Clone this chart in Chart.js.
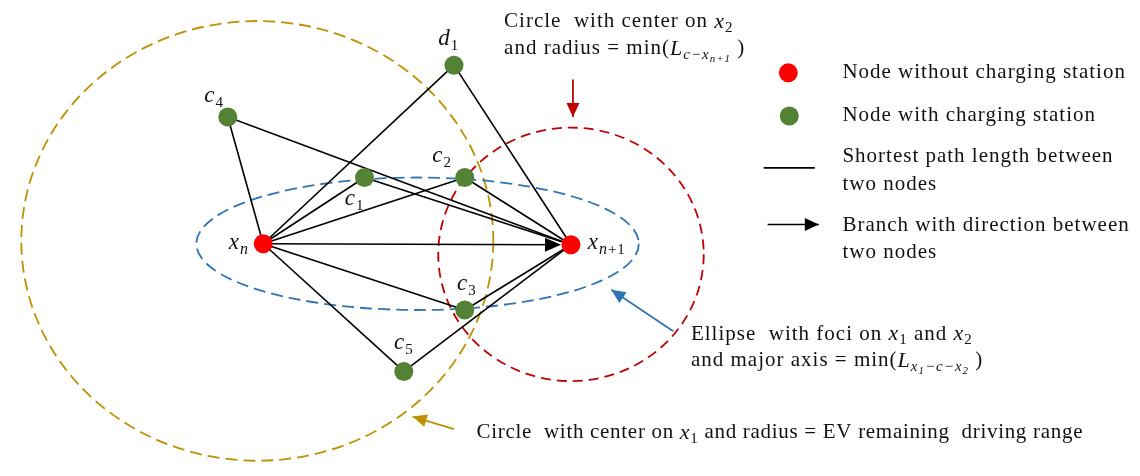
<!DOCTYPE html>
<html>
<head>
<meta charset="utf-8">
<script src="https://cdn.jsdelivr.net/npm/chart.js@4/dist/chart.umd.min.js"></script>
<style>
  html, body { margin: 0; padding: 0; background: #fff; }
  #wrap { width: 1140px; height: 476px; position: relative; }
</style>
</head>
<body>
<div id="wrap"><canvas id="diagram"></canvas></div>
<script>
// node positions (plot units = pixels of the original)
const nodeNames    = ['xn', 'xn1', 'd1', 'c1', 'c2', 'c3', 'c4', 'c5'];
const nodeX        = [258, 571, 452, 361, 463, 463, 222, 401];
const nodeY        = [244, 245, 58, 175, 175, 313, 112, 377];
const nodeCharging = [false, false, true, true, true, true, true, true];

// shortest-path edges (undirected) and the directed branch
const edges = [
  ['xn', 'c4'], ['c4', 'xn1'],
  ['xn', 'd1'], ['d1', 'xn1'],
  ['xn', 'c1'], ['c1', 'xn1'],
  ['xn', 'c2'], ['c2', 'xn1'],
  ['xn', 'c3'], ['c3', 'xn1'],
  ['xn', 'c5'], ['c5', 'xn1']
];
const branch = ['xn', 'xn1'];

// dashed circles / ellipse: driving range, foci ellipse, target circle
const ringCX = [252, 415, 571];
const ringCY = [241, 244, 255];
const ringRX = [240, 225, 135];
const ringRY = [229, 69, 132];
const ringColors = ['#BF9000', '#2E75B6', '#C00000'];

const legendLabels = [
  ['Node without charging station'],
  ['Node with charging station'],
  ['Shortest path length between', 'two nodes'],
  ['Branch with direction between', 'two nodes']
];

const SERIF = '"Liberation Serif", "Times New Roman", serif';

const idx = name => nodeNames.indexOf(name);
const pt = name => ({ x: nodeX[idx(name)], y: nodeY[idx(name)] });

// rich text: [text, style] pairs
const styles = {
  r:  { font: `21px ${SERIF}`, dy: 0 },
  i:  { font: `italic 22px ${SERIF}`, dy: 0 },
  s:  { font: `15px ${SERIF}`, dy: 6 },
  si: { font: `italic 15px ${SERIF}`, dy: 6 },
  ss: { font: `italic 11px ${SERIF}`, dy: 10 },
  L:  { font: `italic 23px ${SERIF}`, dy: 0 },
  Ls: { font: `15px ${SERIF}`, dy: 7 },
  Lsi:{ font: `italic 16px ${SERIF}`, dy: 7 }
};

const annotations = [
  { x: 503, y: 13, segs: [['Circle  with center on ', 'r'], ['x', 'i'], ['2', 's']] },
  { x: 503, y: 41, segs: [['and radius = min(', 'r'], ['L', 'i'], ['c\u2212x', 'si'], ['n+1', 'ss'], [' )', 'r']] },
  { x: 693, y: 338, segs: [['Ellipse  with foci on ', 'r'], ['x', 'i'], ['1', 's'], [' and ', 'r'], ['x', 'i'], ['2', 's']] },
  { x: 693, y: 366, segs: [['and major axis = min(', 'r'], ['L', 'i'], ['x', 'si'], ['1', 'ss'], ['\u2212c\u2212x', 'si'], ['2', 'ss'], [' )', 'r']] },
  { x: 475, y: 441, segs: [['Circle  with center on ', 'r'], ['x', 'i'], ['1', 's'], [' and radius = EV remaining  driving range', 'r']], spacing: '0.7px' }
];

const nodeLabels = [
  { x: 198, y: 90,  segs: [['c', 'L'], ['4', 'Ls']] },
  { x: 436, y: 31,  segs: [['d', 'L'], ['1', 'Ls']] },
  { x: 430, y: 153, segs: [['c', 'L'], ['2', 'Ls']] },
  { x: 341, y: 197, segs: [['c', 'L'], ['1', 'Ls']] },
  { x: 223, y: 243, segs: [['x', 'L'], ['n', 'Lsi']] },
  { x: 588, y: 243, segs: [['x', 'L'], ['n', 'Lsi'], ['+1', 'Ls']] },
  { x: 455, y: 286, segs: [['c', 'L'], ['3', 'Ls']] },
  { x: 391, y: 347, segs: [['c', 'L'], ['5', 'Ls']] }
];

const drawRich = (ctx, x, y, segs, spacing = '1px') => {
  ctx.save();
  ctx.fillStyle = '#111';
  ctx.textBaseline = 'middle';
  ctx.letterSpacing = spacing;
  let cx = x;
  segs.forEach(([t, st]) => {
    ctx.font = styles[st].font;
    ctx.fillText(t, cx, y + styles[st].dy);
    cx += ctx.measureText(t).width;
  });
  ctx.restore();
};

const arrowHead = (ctx, x0, y0, x1, y1, len, half, color) => {
  const a = Math.atan2(y1 - y0, x1 - x0);
  ctx.save();
  ctx.fillStyle = color;
  ctx.beginPath();
  ctx.moveTo(x1, y1);
  ctx.lineTo(x1 - len * Math.cos(a) + half * Math.sin(a), y1 - len * Math.sin(a) - half * Math.cos(a));
  ctx.lineTo(x1 - len * Math.cos(a) - half * Math.sin(a), y1 - len * Math.sin(a) + half * Math.cos(a));
  ctx.closePath();
  ctx.fill();
  ctx.restore();
};

const arrow = (ctx, x0, y0, x1, y1, color, width) => {
  ctx.save();
  ctx.strokeStyle = color;
  ctx.lineWidth = width;
  ctx.beginPath();
  ctx.moveTo(x0, y0);
  ctx.lineTo(x1, y1);
  ctx.stroke();
  ctx.restore();
  arrowHead(ctx, x0, y0, x1, y1, 14, 6.5, color);
};

const diagramPlugin = {
  id: 'diagram',
  beforeDatasetsDraw(chart) {
    const { ctx, scales: { x, y } } = chart;
    ringCX.forEach((cx, i) => {
      const px = x.getPixelForValue(cx), py = y.getPixelForValue(ringCY[i]);
      const rx = Math.abs(x.getPixelForValue(cx + ringRX[i]) - px);
      const ry = Math.abs(y.getPixelForValue(ringCY[i] + ringRY[i]) - py);
      ctx.save();
      ctx.strokeStyle = ringColors[i];
      ctx.lineWidth = 1.8;
      ctx.setLineDash(i === 2 ? [10, 6] : [12, 6]);
      ctx.beginPath();
      ctx.ellipse(px, py, rx, ry, 0, 0, Math.PI * 2);
      ctx.stroke();
      ctx.restore();
    });
  },
  afterDatasetsDraw(chart) {
    const { ctx, scales: { x, y } } = chart;
    const X = v => x.getPixelForValue(v), Y = v => y.getPixelForValue(v);

    // head of the directed branch, stopping at the node rim
    const a = pt(branch[0]), b = pt(branch[1]);
    arrowHead(ctx, X(a.x), Y(a.y), X(b.x) - 10, Y(b.y), 16, 7, '#000');

    // pointers to the three rings
    arrow(ctx, X(573), Y(73), X(573), Y(112), '#C00000', 1.8);
    arrow(ctx, X(675), Y(335), X(612), Y(292), '#2E75B6', 1.8);
    arrow(ctx, X(452), Y(437), X(410), Y(424), '#BF9000', 1.8);

    // legend
    ctx.save();
    ctx.fillStyle = '#FF0000';
    ctx.beginPath(); ctx.arc(X(792), Y(66), 9.5, 0, Math.PI * 2); ctx.fill();
    ctx.fillStyle = '#548235';
    ctx.beginPath(); ctx.arc(X(793), Y(111), 9.5, 0, Math.PI * 2); ctx.fill();
    ctx.strokeStyle = '#000';
    ctx.lineWidth = 1.6;
    ctx.beginPath(); ctx.moveTo(X(767), Y(165)); ctx.lineTo(X(819), Y(165)); ctx.stroke();
    ctx.restore();
    arrow(ctx, X(771), Y(224), X(823), Y(224), '#000', 1.6);

    const legendY = [[66], [110], [153, 182], [225, 253]];
    legendLabels.forEach((lines, i) => {
      lines.forEach((t, j) => drawRich(ctx, X(847), Y(legendY[i][j]), [[t, 'r']]));
    });

    annotations.forEach(an => drawRich(ctx, X(an.x), Y(an.y), an.segs, an.spacing));
    nodeLabels.forEach(nl => drawRich(ctx, X(nl.x), Y(nl.y), nl.segs));
  }
};

const edgeDatasets = edges.map(([f, t]) => ({
  data: [pt(f), pt(t)],
  showLine: true,
  borderColor: '#000',
  borderWidth: 1.6,
  pointRadius: 0,
  order: 3
}));

const branchDataset = {
  data: [pt(branch[0]), { x: pt(branch[1]).x - 18, y: pt(branch[1]).y }],
  showLine: true,
  borderColor: '#000',
  borderWidth: 1.6,
  pointRadius: 0,
  order: 3
};

const nodeDataset = (charging, color) => ({
  data: nodeNames.filter((n, i) => nodeCharging[i] === charging).map(pt),
  backgroundColor: color,
  borderColor: color,
  borderWidth: 0,
  pointRadius: 9.5,
  showLine: false,
  order: 1
});

new Chart(document.getElementById('diagram'), {
  type: 'scatter',
  data: {
    datasets: [...edgeDatasets, branchDataset, nodeDataset(false, '#FF0000'), nodeDataset(true, '#548235')]
  },
  options: {
    responsive: true,
    maintainAspectRatio: false,
    animation: false,
    layout: { padding: 0 },
    scales: {
      x: { type: 'linear', min: 0, max: 1140, display: false },
      y: { type: 'linear', min: 0, max: 476, reverse: true, display: false }
    },
    plugins: {
      legend: { display: false },
      tooltip: { enabled: false }
    }
  },
  plugins: [diagramPlugin]
});
</script>
</body>
</html>
